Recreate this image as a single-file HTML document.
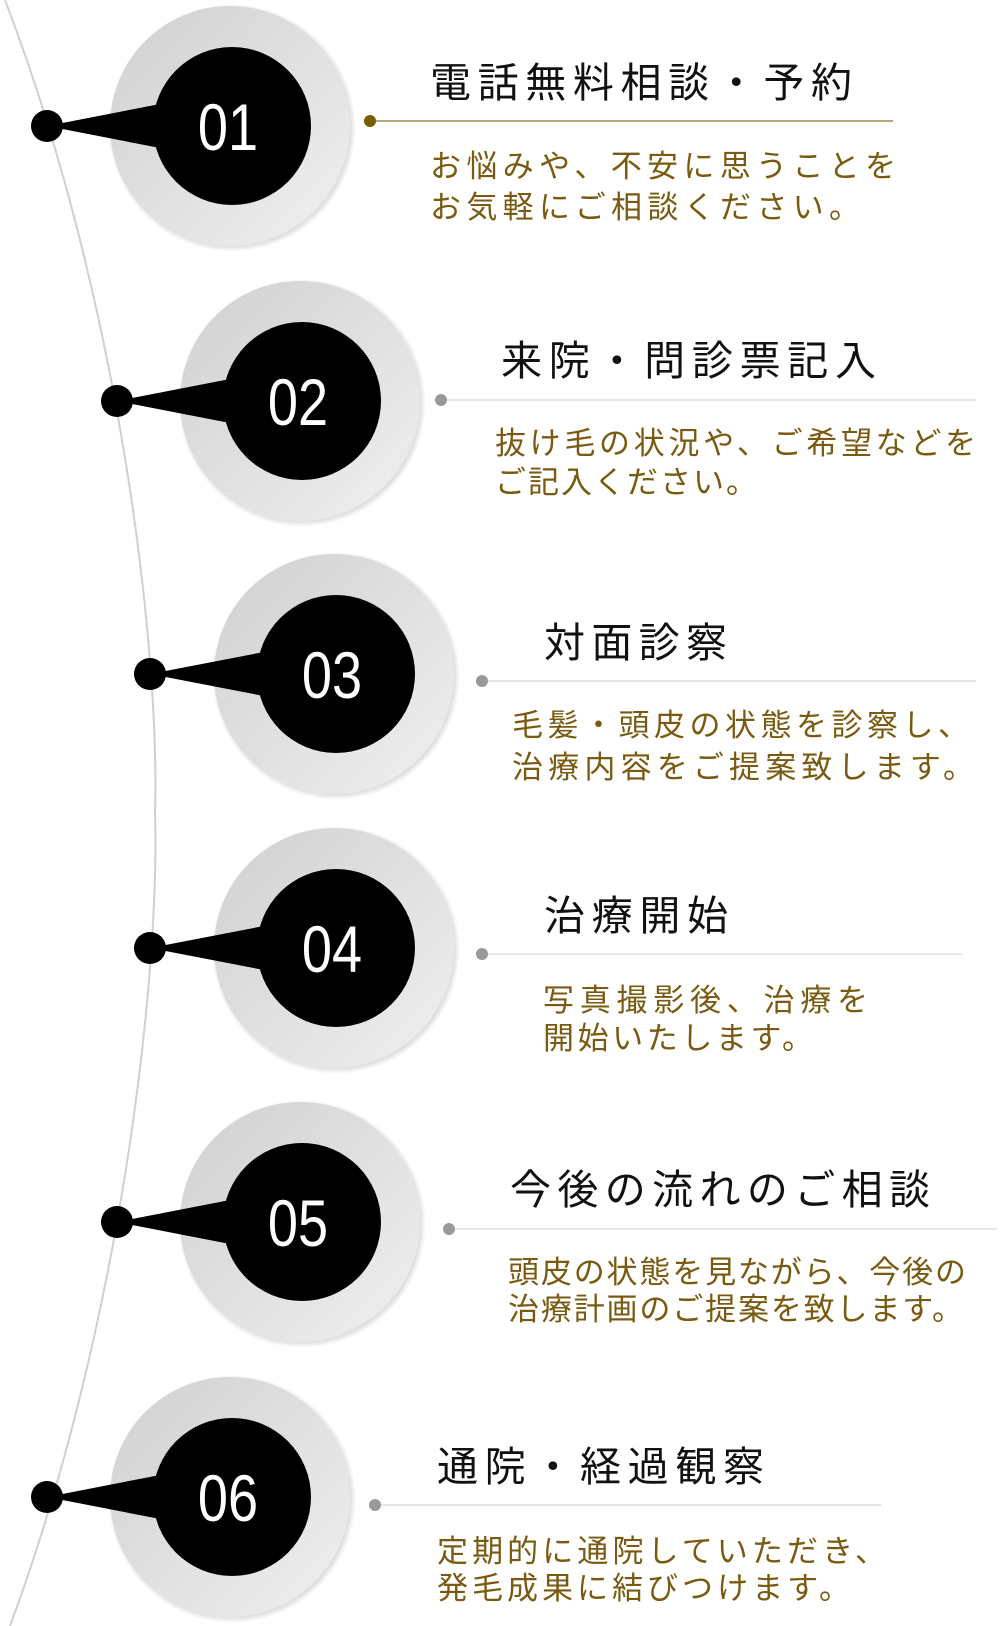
<!DOCTYPE html>
<html><head><meta charset="utf-8"><style>
html,body{margin:0;padding:0;background:#fff;width:1000px;height:1626px;overflow:hidden}
svg{display:block}
.t{font-family:"Liberation Sans","Noto Sans CJK JP",sans-serif;font-size:41px;fill:#111}
.d{font-family:"Liberation Sans","Noto Sans CJK JP",sans-serif;font-size:31px;fill:#7a5a10}
.n{font-family:"Liberation Sans","DejaVu Sans",sans-serif;font-size:66px;fill:#fff}
</style></head><body>
<svg width="1000" height="1626" viewBox="0 0 1000 1626" xmlns="http://www.w3.org/2000/svg">
<defs>
<linearGradient id="g" x1="0" y1="0" x2="1" y2="1">
<stop offset="0" stop-color="#d0d0d0"/><stop offset="1" stop-color="#f0f0f0"/>
</linearGradient>
<radialGradient id="s" cx="0.5" cy="0.5" r="0.5">
<stop offset="0.9" stop-color="#bbb"/><stop offset="1" stop-color="#bbb" stop-opacity="0"/>
</radialGradient>
</defs>
<path d="M5,0 C120,300 160,650 155,813 C160,980 120,1330 10,1626" fill="none" stroke="#d0d0d0" stroke-width="2"/>
<!-- 1 -->
<circle cx="232" cy="128" r="124" fill="url(#s)"/>
<circle cx="230" cy="126" r="120" fill="url(#g)"/>
<polygon points="47,126 160,104 160,148" fill="#000"/>
<circle cx="47" cy="126" r="16" fill="#000"/>
<circle cx="232" cy="126" r="79" fill="#000"/>
<text class="n" x="228" y="150" text-anchor="middle" transform="translate(228 0) scale(0.82 1) translate(-228 0)">01</text>
<line x1="370" y1="121" x2="893" y2="121" stroke="#b8a878" stroke-width="2"/>
<circle cx="370" cy="121" r="6" fill="#7a5c00"/>
<text class="t" x="430" y="97" textLength="422" lengthAdjust="spacing">電話無料相談・予約</text>
<text class="d" x="430" y="177" textLength="466" lengthAdjust="spacing">お悩みや、不安に思うことを</text>
<text class="d" x="430" y="218" textLength="430" lengthAdjust="spacing">お気軽にご相談ください。</text>
<!-- 2 -->
<circle cx="302" cy="403" r="124" fill="url(#s)"/>
<circle cx="300" cy="401" r="120" fill="url(#g)"/>
<polygon points="117,401 230,379 230,423" fill="#000"/>
<circle cx="117" cy="401" r="16" fill="#000"/>
<circle cx="302" cy="401" r="79" fill="#000"/>
<text class="n" x="298" y="425" text-anchor="middle" transform="translate(298 0) scale(0.82 1) translate(-298 0)">02</text>
<line x1="441" y1="400" x2="976" y2="400" stroke="#ddd" stroke-width="1.5"/>
<circle cx="441" cy="400" r="6" fill="#999"/>
<text class="t" x="501" y="375" textLength="375" lengthAdjust="spacing">来院・問診票記入</text>
<text class="d" x="495" y="454" textLength="481" lengthAdjust="spacing">抜け毛の状況や、ご希望などを</text>
<text class="d" x="495" y="493" textLength="262" lengthAdjust="spacing">ご記入ください。</text>
<!-- 3 -->
<circle cx="336" cy="676" r="124" fill="url(#s)"/>
<circle cx="334" cy="674" r="120" fill="url(#g)"/>
<polygon points="150,674 264,652 264,696" fill="#000"/>
<circle cx="150" cy="674" r="16" fill="#000"/>
<circle cx="336" cy="674" r="79" fill="#000"/>
<text class="n" x="332" y="698" text-anchor="middle" transform="translate(332 0) scale(0.82 1) translate(-332 0)">03</text>
<line x1="482" y1="681" x2="976" y2="681" stroke="#ddd" stroke-width="1.5"/>
<circle cx="482" cy="681" r="6" fill="#999"/>
<text class="t" x="544" y="657" textLength="183" lengthAdjust="spacing">対面診察</text>
<text class="d" x="512" y="736" textLength="457" lengthAdjust="spacing">毛髪・頭皮の状態を診察し、</text>
<text class="d" x="512" y="778" textLength="462" lengthAdjust="spacing">治療内容をご提案致します。</text>
<!-- 4 -->
<circle cx="336" cy="950" r="124" fill="url(#s)"/>
<circle cx="334" cy="948" r="120" fill="url(#g)"/>
<polygon points="150,948 264,926 264,970" fill="#000"/>
<circle cx="150" cy="948" r="16" fill="#000"/>
<circle cx="336" cy="948" r="79" fill="#000"/>
<text class="n" x="332" y="972" text-anchor="middle" transform="translate(332 0) scale(0.82 1) translate(-332 0)">04</text>
<line x1="482" y1="954" x2="962" y2="954" stroke="#ddd" stroke-width="1.5"/>
<circle cx="482" cy="954" r="6" fill="#999"/>
<text class="t" x="544" y="930" textLength="184" lengthAdjust="spacing">治療開始</text>
<text class="d" x="543" y="1011" textLength="325" lengthAdjust="spacing">写真撮影後、治療を</text>
<text class="d" x="543" y="1049" textLength="270" lengthAdjust="spacing">開始いたします。</text>
<!-- 5 -->
<circle cx="302" cy="1224" r="124" fill="url(#s)"/>
<circle cx="300" cy="1222" r="120" fill="url(#g)"/>
<polygon points="117,1222 230,1200 230,1244" fill="#000"/>
<circle cx="117" cy="1222" r="16" fill="#000"/>
<circle cx="302" cy="1222" r="79" fill="#000"/>
<text class="n" x="298" y="1246" text-anchor="middle" transform="translate(298 0) scale(0.82 1) translate(-298 0)">05</text>
<line x1="449" y1="1229" x2="997" y2="1229" stroke="#ddd" stroke-width="1.5"/>
<circle cx="449" cy="1229" r="6" fill="#999"/>
<text class="t" x="510" y="1204" textLength="420" lengthAdjust="spacing">今後の流れのご相談</text>
<text class="d" x="508" y="1283" textLength="458" lengthAdjust="spacing">頭皮の状態を見ながら、今後の</text>
<text class="d" x="508" y="1320" textLength="455" lengthAdjust="spacing">治療計画のご提案を致します。</text>
<!-- 6 -->
<circle cx="232" cy="1499" r="124" fill="url(#s)"/>
<circle cx="230" cy="1497" r="120" fill="url(#g)"/>
<polygon points="47,1497 160,1475 160,1519" fill="#000"/>
<circle cx="47" cy="1497" r="16" fill="#000"/>
<circle cx="232" cy="1497" r="79" fill="#000"/>
<text class="n" x="228" y="1521" text-anchor="middle" transform="translate(228 0) scale(0.82 1) translate(-228 0)">06</text>
<line x1="375" y1="1505" x2="881" y2="1505" stroke="#ddd" stroke-width="1.5"/>
<circle cx="375" cy="1505" r="6" fill="#999"/>
<text class="t" x="437" y="1481" textLength="327" lengthAdjust="spacing">通院・経過観察</text>
<text class="d" x="437" y="1562" textLength="449" lengthAdjust="spacing">定期的に通院していただき、</text>
<text class="d" x="437" y="1599" textLength="413" lengthAdjust="spacing">発毛成果に結びつけます。</text>
</svg>
</body></html>
